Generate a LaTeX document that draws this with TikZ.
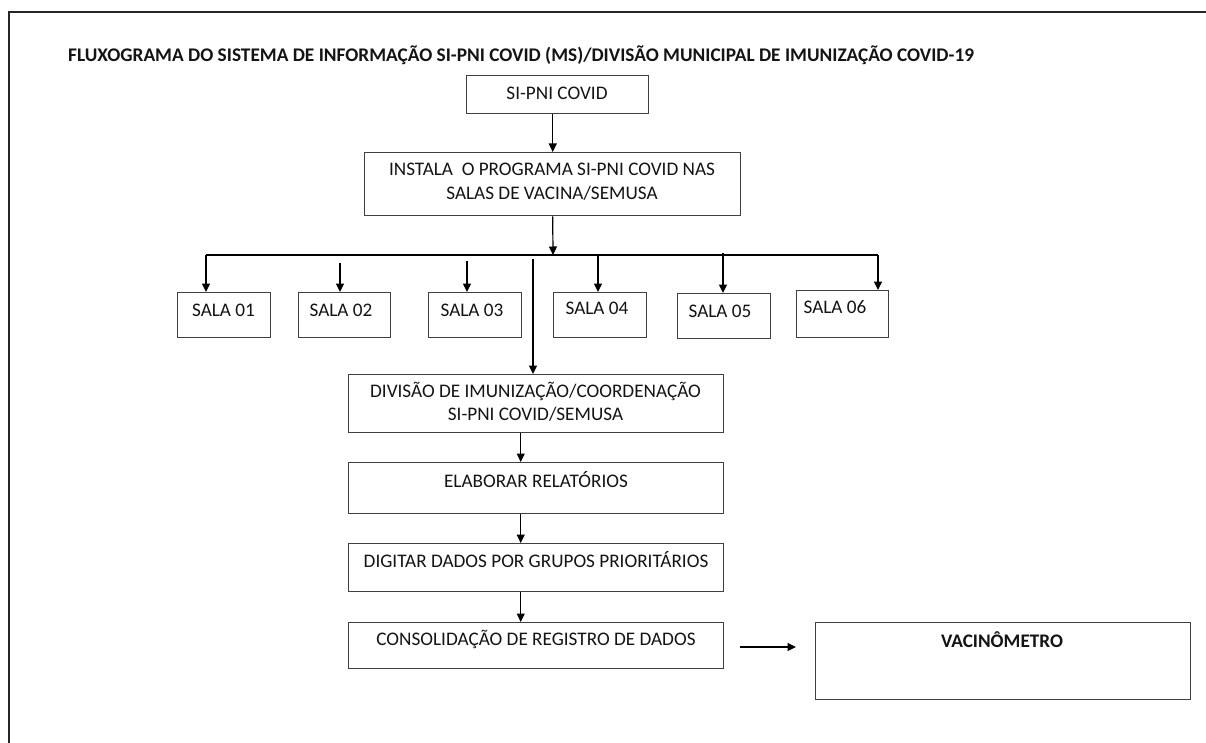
\documentclass[tikz,border=0pt]{standalone}
\usepackage{fontspec}
\setmainfont{Carlito}
\usetikzlibrary{arrows.meta,calc}
\definecolor{boxline}{HTML}{404040}
\definecolor{txt}{HTML}{141414}
\tikzset{
  box/.style={draw=boxline, line width=1.4pt, fill=white, inner sep=0pt, anchor=north west},
  lbl/.style={text=txt, font=\fontsize{19.2}{23.5}\selectfont, inner sep=0pt, align=center},
  ttl/.style={text=txt, font=\bfseries\fontsize{19.3}{22}\selectfont, inner sep=0pt, anchor=west},
  arr/.style={draw=black, line width=1.2pt, -{Triangle[length=8.5pt,width=8pt]}},
  ln/.style={draw=black, line width=1.2pt},
  frame/.style={draw=black!85, line width=2.4pt}
}
\begin{document}
\begin{tikzpicture}[x=1pt,y=-1pt]
\useasboundingbox (0,0) rectangle (1206,743);
\fill[white] (0,0) rectangle (1206,743);
\draw[frame] (1230,12) -- (9,12) -- (9,760);

\node[ttl] (title) at (68,55) {FLUXOGRAMA DO SISTEMA DE INFORMAÇÃO SI-PNI COVID (MS)/DIVISÃO MUNICIPAL DE IMUNIZAÇÃO COVID-19};

% boxes
\node[box, minimum width=182pt, minimum height=38pt] (sipni) at (466,75) {};
\node[box, minimum width=376pt, minimum height=63pt] (inst) at (364,152) {};
\node[box, minimum width=93pt, minimum height=45pt] (s1) at (177,292) {};
\node[box, minimum width=92pt, minimum height=45pt] (s2) at (298,292) {};
\node[box, minimum width=93pt, minimum height=45pt] (s3) at (428,292) {};
\node[box, minimum width=93pt, minimum height=45pt] (s4) at (553,292) {};
\node[box, minimum width=93pt, minimum height=45pt] (s5) at (677,293) {};
\node[box, minimum width=92pt, minimum height=47pt] (s6) at (796,290) {};
\node[box, minimum width=375pt, minimum height=58pt] (div) at (348,374) {};
\node[box, minimum width=375pt, minimum height=51pt] (elab) at (348,462) {};
\node[box, minimum width=375pt, minimum height=48pt] (dig) at (348,543) {};
\node[box, minimum width=375pt, minimum height=46pt] (cons) at (348,622) {};
\node[box, minimum width=375pt, minimum height=77pt] (vac) at (815,622) {};

% texts
\node[lbl] (t-sipni) at (557,93) {SI-PNI COVID};
\node[lbl] (t-inst) at (552,181.5) {INSTALA\ \ O PROGRAMA SI-PNI COVID NAS\\SALAS DE VACINA/SEMUSA};
\node[lbl] (t-s1) at (223.5,310) {SALA 01};
\node[lbl] (t-s2) at (341,310) {SALA 02};
\node[lbl] (t-s3) at (472,310) {SALA 03};
\node[lbl] (t-s4) at (597,308) {SALA 04};
\node[lbl] (t-s5) at (720,311) {SALA 05};
\node[lbl] (t-s6) at (835,307) {SALA 06};
\node[lbl] (t-div) at (535.5,402) {DIVISÃO DE IMUNIZAÇÃO/COORDENAÇÃO\\SI-PNI COVID/SEMUSA};
\node[lbl] (t-elab) at (536,480) {ELABORAR RELATÓRIOS};
\node[lbl] (t-dig) at (536,560) {DIGITAR DADOS POR GRUPOS PRIORITÁRIOS};
\node[lbl] (t-cons) at (536,639) {CONSOLIDAÇÃO DE REGISTRO DE DADOS};
\node[lbl, font=\bfseries\fontsize{19.2}{23.5}\selectfont] (t-vac) at (1002,640) {VACINÔMETRO};

% connector coordinates
\coordinate (hl) at (206,255);
\coordinate (hr) at (878,255);
\coordinate (hm) at (553,255);
\coordinate (a2) at (340,263);
\coordinate (a3) at (467,261);
\coordinate (v1) at (533,259);
\coordinate (a4) at (598,255);
\coordinate (a5) at (723,253);
\coordinate (r1) at (740,647);
\coordinate (r2) at (796,647);

% connectors
\draw[arr] (sipni.south -| inst.south) -- (inst.north);
\draw[arr] (inst.south) -- (hm);
\draw[ln] (hl) -- (hr);
\draw[arr] (hl) -- (s1.north -| hl);
\draw[arr] (a2) -- (s2.north -| a2);
\draw[arr] (a3) -- (s3.north -| a3);
\draw[arr] (v1) -- (div.north -| v1);
\draw[arr] (a4) -- (s4.north -| a4);
\draw[arr] (a5) -- (s5.north -| a5);
\draw[arr] (hr) -- (s6.north -| hr);
\draw[arr] ($(div.south)+(-15.5,0)$) -- ($(elab.north)+(-15.5,0)$);
\draw[arr] ($(elab.south)+(-15.5,0)$) -- ($(dig.north)+(-15.5,0)$);
\draw[arr] ($(dig.south)+(-15.5,0)$) -- ($(cons.north)+(-15.5,0)$);
\draw[arr] (r1) -- (r2);
\end{tikzpicture}
\end{document}
